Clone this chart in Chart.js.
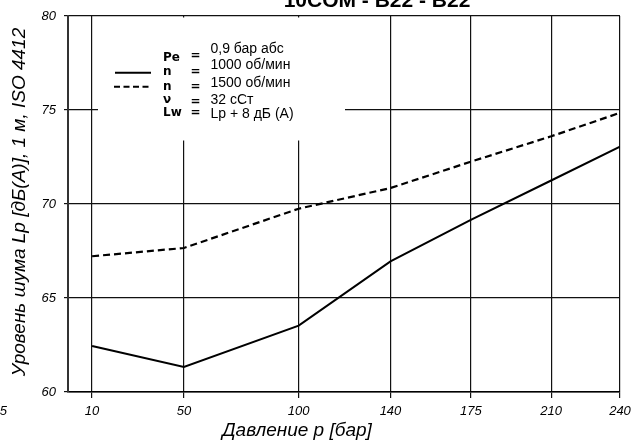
<!DOCTYPE html>
<html><head><meta charset="utf-8">
<script src="https://cdn.jsdelivr.net/npm/chart.js@4"></script>
<style>html,body{margin:0;padding:0;background:#fff}#w{width:640px;height:443px;position:relative}</style>
</head><body><div id="w"><canvas id="c"></canvas></div>
<script>
const pressures=[10,50,100,140,175,210,240];
const n1000=[62.45,61.33,63.53,66.95,69.15,71.25,73.05];
const n1500=[67.22,67.66,69.75,70.85,72.25,73.6,74.85];
const xTickValues=[10,50,100,140,175,210,240];
const yTickValues=[60,65,70,75,80];
const titleText='10COM - B22 - B22';
const xTitle='Давление p [бар]';
const yTitle='Уровень шума Lp [дБ(A)], 1 м, ISO 4412';
const strayLabel='5';
const legendSymbols=['Pe','n','n','ν','Lw'];
const legendValues=['0,9 бар абс','1000 об/мин','1500 об/мин','32 сСт','Lp + 8 дБ (A)'];

const toPts=(xs,ys)=>xs.map((x,i)=>({x:x,y:ys[i]}));

const overlay={
  id:'overlay',
  beforeDatasetsDraw(chart){
    const ctx=chart.ctx;ctx.save();
    ctx.fillStyle='#fff';ctx.fillRect(98,17.5,247,123);
    ctx.restore();
  },
  afterDraw(chart){
    const ctx=chart.ctx;const a=chart.chartArea;
    ctx.save();
    ctx.fillStyle='#000';
    // title (cut at top)
    ctx.font='bold 21px "Liberation Sans", Arial, sans-serif';
    ctx.textAlign='center';ctx.textBaseline='alphabetic';
    ctx.fillText(titleText,377,6.5);
    // x title
    ctx.font='italic 19px "Liberation Sans", Arial, sans-serif';
    ctx.textBaseline='middle';
    ctx.fillText(xTitle,297,431);
    // stray clipped tick label at far left
    ctx.font='italic 13px "Liberation Sans", Arial, sans-serif';
    ctx.textAlign='right';
    ctx.fillText(strayLabel,7,411);
    ctx.textAlign='center';
    ctx.font='italic 19px "Liberation Sans", Arial, sans-serif';
    // y title
    ctx.save();ctx.translate(20,(a.top+a.bottom)/2-2);ctx.rotate(-Math.PI/2);
    ctx.fillText(yTitle,0,0);ctx.restore();
    // legend block
    const symBase=[60.7,75,90,102.7,116];
    const eqMid=[56,71.7,86.7,101.7,112.7];
    const valBase=[53,68.5,87,103.5,117.5];
    ctx.textAlign='left';ctx.textBaseline='alphabetic';
    for(let i=0;i<legendSymbols.length;i++){
      ctx.font='bold 12px "DejaVu Sans", sans-serif';
      ctx.fillText(legendSymbols[i],163,symBase[i]);
      ctx.textBaseline='middle';ctx.textAlign='center';
      ctx.fillText('=',195.5,eqMid[i]);
      ctx.textAlign='left';ctx.textBaseline='alphabetic';
      ctx.font='14px "Liberation Sans", Arial, sans-serif';
      ctx.fillText(legendValues[i],210.5,valBase[i]);
    }
    ctx.strokeStyle='#000';ctx.lineWidth=2;
    ctx.beginPath();ctx.moveTo(115,72.7);ctx.lineTo(151,72.7);ctx.stroke();
    ctx.setLineDash([6,3.5]);
    ctx.beginPath();ctx.moveTo(114,86.7);ctx.lineTo(150,86.7);ctx.stroke();
    ctx.restore();
  }
};

new Chart(document.getElementById('c'),{
  type:'line',
  data:{datasets:[
    {label:'n = 1000 об/мин',data:toPts(pressures,n1000),borderColor:'#000',borderWidth:2,pointRadius:0,tension:0,fill:false},
    {label:'n = 1500 об/мин',data:toPts(pressures,n1500),borderColor:'#000',borderWidth:2.2,borderDash:[7,4],pointRadius:0,tension:0,fill:false}
  ]},
  options:{
    responsive:true,maintainAspectRatio:false,animation:false,
    layout:{padding:{left:0,right:20,top:16,bottom:0}},
    plugins:{legend:{display:false},tooltip:{enabled:false},title:{display:false}},
    scales:{
      x:{type:'linear',min:-0.5,max:240,
        afterBuildTicks(s){s.ticks=xTickValues.map(v=>({value:v}));},
        afterFit(s){s.height=51;},
        grid:{color:'#111',lineWidth:1.2,tickLength:6,drawTicks:true},
        border:{display:true,color:'#000',width:1.5},
        ticks:{color:'#000',padding:6,maxRotation:0,autoSkip:false,
          font:{family:'"Liberation Sans", Arial, sans-serif',size:13,style:'italic'},
          callback:(v)=>String(v)}
      },
      y:{min:60,max:80,
        afterBuildTicks(s){s.ticks=yTickValues.map(v=>({value:v}));},
        afterFit(s){s.width=68;},
        grid:{color:'#111',lineWidth:1.2,tickLength:4},
        border:{display:true,color:'#333',width:2},
        ticks:{color:'#000',padding:8,
          font:{family:'"Liberation Sans", Arial, sans-serif',size:13,style:'italic'}}
      }
    }
  },
  plugins:[overlay]
});
</script>
</body></html>
